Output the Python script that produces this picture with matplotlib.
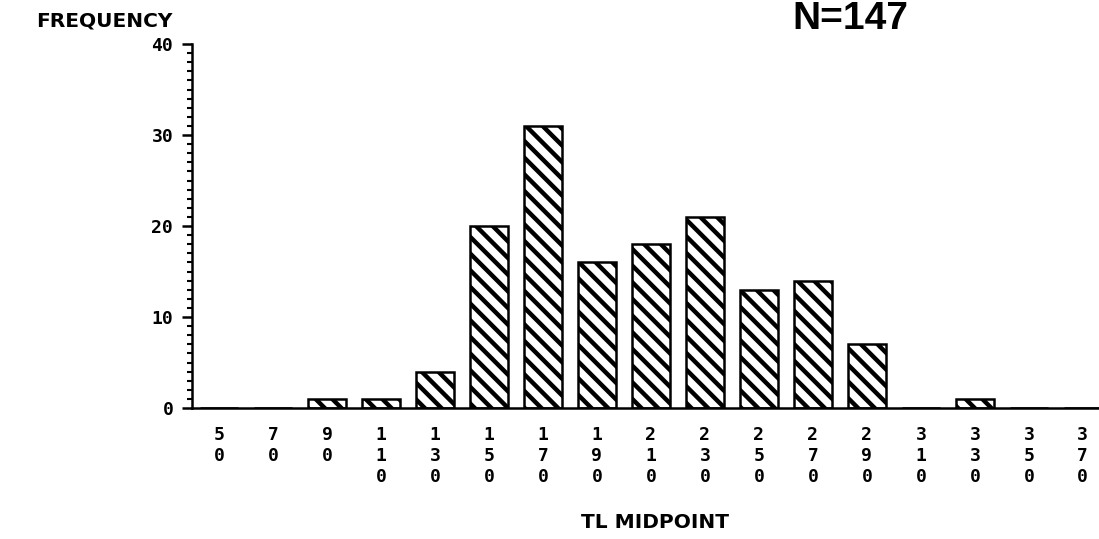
import matplotlib
matplotlib.use("Agg")
import matplotlib.pyplot as plt
from matplotlib.ticker import MultipleLocator

# TL class midpoints and counts per class
midpoints = [50, 70, 90, 110, 130, 150, 170, 190, 210, 230, 250, 270, 290, 310, 330, 350, 370]
counts = [0, 0, 1, 1, 4, 20, 31, 16, 18, 21, 13, 14, 7, 0, 1, 0, 0]
y_ticks = [0, 10, 20, 30, 40]

plt.rcParams['hatch.linewidth'] = 3.2
plt.rcParams['hatch.color'] = 'black'

W, H = 1099, 539
fig = plt.figure(figsize=(W / 100, H / 100), dpi=100)
ax = fig.add_axes([192 / W, 1 - 408 / H, (W - 192) / W, (408 - 44) / H])

pos = list(range(len(midpoints)))
ax.bar(pos, counts, width=0.70, facecolor='white', edgecolor='black',
       linewidth=1.8, hatch='\\\\')

ax.set_xlim(-0.5, 16.3)
ax.set_ylim(0, 40)

for side in ('top', 'right'):
    ax.spines[side].set_visible(False)
for side in ('left', 'bottom'):
    ax.spines[side].set_linewidth(1.8)

digit_font = dict(family='DejaVu Sans Mono', weight='bold', size=13)

# stacked digits under each bar, one character per line
ax.set_xticks(pos)
ax.set_xticklabels(['\n'.join(str(m)) for m in midpoints], fontdict=digit_font,
                   va='top', linespacing=1.2)
ax.tick_params(axis='x', length=0, pad=13)

ax.set_yticks(y_ticks)
ax.set_yticklabels([str(v) for v in y_ticks], fontdict=digit_font)
ax.yaxis.set_minor_locator(MultipleLocator(1))
ax.tick_params(axis='y', which='major', length=7.5, width=1.8, pad=6)
ax.tick_params(axis='y', which='minor', length=3.6, width=1.5)

word_font = dict(family='DejaVu Sans', weight='bold', size=14.5)
fig.text(173 / W, 1 - 21 / H, 'FREQUENCY', ha='right', va='center', **word_font)
fig.text(655 / W, 1 - 522 / H, 'TL MIDPOINT', ha='center', va='center', **word_font)
fig.text(850 / W, 1 - 19 / H, 'N=147', ha='center', va='center',
         family='Liberation Sans', weight='bold', size=28)

fig.savefig('out.png', dpi=100)
